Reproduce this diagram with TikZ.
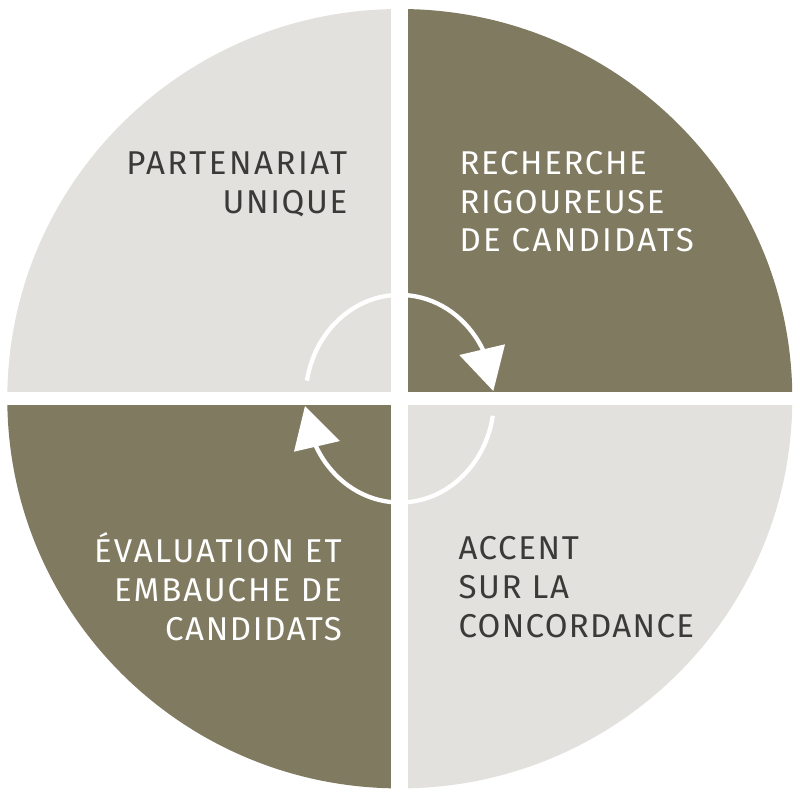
\documentclass[tikz,border=0pt]{standalone}
\usepackage{fontspec}
\setmainfont{Fira Sans}
\definecolor{lightq}{HTML}{E2E1DD}
\definecolor{oliveq}{HTML}{7F7A60}
\definecolor{darktxt}{HTML}{3A3A38}
\begin{document}
\begin{tikzpicture}[x=1pt,y=-1pt,
  lbl/.style={inner sep=0pt,font=\fontsize{33}{39}\selectfont\addfontfeature{LetterSpace=#1}},
  lbll/.style={lbl=#1,anchor=base west},
  lblr/.style={lbl=#1,anchor=base east},
  lbll/.default=5, lblr/.default=5,
  ondark/.style={text=white},
  onlight/.style={text=darktxt},
  arcline/.style={draw=white,line width=4.3pt},
  tipfill/.style={fill=white}]
\useasboundingbox (0,0) rectangle (800,798);
\coordinate (c) at (399.8,398.7);
\begin{scope}
  \clip (c) ellipse [x radius=392.5pt, y radius=389.7pt];
  \fill[lightq] (0,0) rectangle (391.3,392.3);
  \fill[oliveq] (408.3,0) rectangle (800,392.3);
  \fill[oliveq] (0,405) rectangle (391.3,798);
  \fill[lightq] (408.3,405) rectangle (800,798);
\end{scope}
% circular arrows
\draw[arcline] (c) ++(170:94.3pt and 103.8pt) arc[start angle=170, end angle=26, x radius=94.3pt, y radius=103.8pt];
\fill[tipfill] (459.3,355) -- (505,344.3) -- (493.3,391) -- cycle;
\draw[arcline] (c) ++(-9.5:94.3pt and 103.8pt) arc[start angle=-9.5, end angle=-154, x radius=94.3pt, y radius=103.8pt];
\fill[tipfill] (305,406) -- (294,451.7) -- (340,441) -- cycle;
% labels
\node[lblr=7.7,onlight] (ul1) at (347.5,174.3) {PARTENARIAT};
\node[lblr=5,onlight] (ul2) at (347.5,213.3) {UNIQUE};
\node[lbll=5,ondark] (ur1) at (459.3,174.3) {RECHERCHE};
\node[lbll=5,ondark] (ur2) at (459.3,213.3) {RIGOUREUSE};
\node[lbll=7,ondark] (ur3) at (459.3,251.7) {DE CANDIDATS};
\node[lblr=6.4,ondark] (ll1) at (342,562.7) {ÉVALUATION ET};
\node[lblr=6,ondark] (ll2) at (342,601.7) {EMBAUCHE DE};
\node[lblr=5,ondark] (ll3) at (342,640) {CANDIDATS};
\node[lbll=5,onlight] (lr1) at (458.3,559.3) {ACCENT};
\node[lbll=5,onlight] (lr2) at (458.3,598.3) {SUR LA};
\node[lbll=4,onlight] (lr3) at (458.3,637.3) {CONCORDANCE};
\end{tikzpicture}
\end{document}
